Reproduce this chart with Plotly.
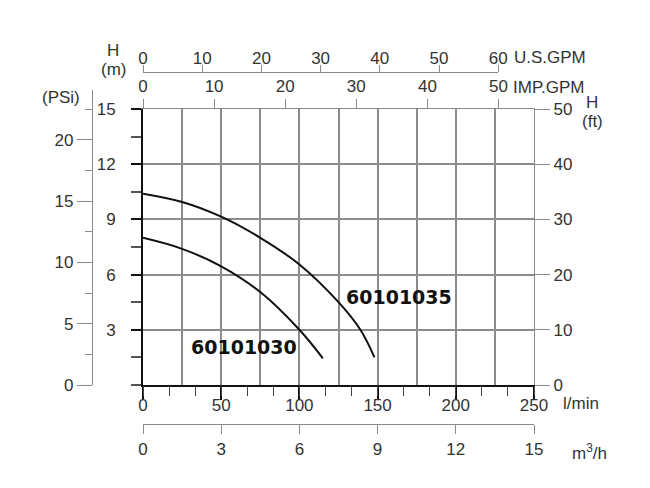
import plotly.graph_objects as go

# ---- data ----
flow_35 = [0, 25, 50, 75, 100, 125, 139, 148]          # l/min
head_35 = [10.4, 9.95, 9.15, 8.0, 6.55, 4.5, 3.0, 1.5]  # m
flow_30 = [0, 25, 50, 75, 100, 115]
head_30 = [8.0, 7.4, 6.45, 5.05, 3.0, 1.45]
model_names = ["60101035", "60101030"]

lmin_ticks = [0, 50, 100, 150, 200, 250]
m3h_ticks = [0, 3, 6, 9, 12, 15]
usgpm_ticks = [0, 10, 20, 30, 40, 50, 60]
impgpm_ticks = [0, 10, 20, 30, 40, 50]
hm_ticks = [3, 6, 9, 12, 15]
psi_ticks = [0, 5, 10, 15, 20]
ft_ticks = [0, 10, 20, 30, 40, 50]

W, H = 650, 488
def px(x): return x / W
def py(y): return 1 - y / H

X0, X1 = px(143), px(534)
YB, YT = py(385), py(109)

TF = dict(family="Liberation Sans, Arial, sans-serif", size=17, color="#333")
GRID = "#8c8c8c"
GREY = "#8a8a8a"

fig = go.Figure()
fig.add_trace(go.Scatter(x=flow_35, y=head_35, mode="lines", line=dict(color="#111", width=2, shape="spline"),
                         showlegend=False, hoverinfo="skip"))
fig.add_trace(go.Scatter(x=flow_30, y=head_30, mode="lines", line=dict(color="#111", width=2, shape="spline"),
                         showlegend=False, hoverinfo="skip"))

def dummy(xa, ya):
    fig.add_trace(go.Scatter(x=[None], y=[None], xaxis=xa, yaxis=ya, mode="markers",
                             showlegend=False, hoverinfo="skip"))

dummy("x2", "y")
dummy("x3", "y")
dummy("x4", "y2")
dummy("x5", "y")
dummy("x", "y3")

common = dict(automargin=False, zeroline=False, fixedrange=True, tickfont=TF)

fig.update_layout(
    template="none",
    width=W, height=H, autosize=False,
    margin=dict(l=0, r=0, t=0, b=0, pad=0),
    paper_bgcolor="white", plot_bgcolor="rgba(0,0,0,0)",
    showlegend=False,
    xaxis=dict(domain=[X0, X1], range=[0, 250], anchor="y", side="bottom",
               tickmode="array", tickvals=lmin_ticks, ticktext=[str(v) for v in lmin_ticks],
               ticks="outside", ticklen=13, tickwidth=1.5, tickcolor="#111",
               showline=True, linecolor="#111", linewidth=2,
               showgrid=True, gridcolor=GRID, gridwidth=1.5,
               minor=dict(tickvals=[25, 75, 125, 175, 225], showgrid=True, gridcolor=GRID, gridwidth=1.5, ticks=""),
               ticklabelstandoff=-9, **common),
    xaxis2=dict(overlaying="x", anchor="y", side="bottom", range=[0, 15],
                tickmode="array", tickvals=list(range(0, 16)), ticks="outside", ticklen=10,
                tickwidth=1, tickcolor="#444", showticklabels=False, showline=False,
                showgrid=False, **common),
    xaxis3=dict(overlaying="x", anchor="free", position=py(424), side="bottom", range=[0, 15],
                tickmode="array", tickvals=m3h_ticks, ticks="outside", ticklen=9, tickwidth=1,
                tickcolor=GREY, showline=True, linecolor=GREY, linewidth=1.2,
                showgrid=False, **common),
    xaxis4=dict(domain=[X0, px(143 + 60 * 3.78541 * 391 / 250)], anchor="free", position=py(72),
                side="top", range=[0, 60], tickmode="array", tickvals=usgpm_ticks, ticks="outside",
                ticklen=7, tickwidth=1, tickcolor=GREY, showline=True, linecolor=GREY, linewidth=1.2,
                showgrid=False, ticklabelstandoff=-6, **common),
    xaxis5=dict(overlaying="x", anchor="y", side="top", range=[0, 250 / 4.54609],
                tickmode="array", tickvals=impgpm_ticks, ticks="outside", ticklen=9, tickwidth=1,
                tickcolor=GREY, showline=True, linecolor=GREY, linewidth=1.2,
                showgrid=False, **common),
    yaxis=dict(domain=[YB, YT], range=[0, 15], anchor="x", side="left",
               tickmode="array", tickvals=hm_ticks,
               ticks="outside", ticklen=10, tickwidth=1.5, tickcolor="#111",
               showline=True, linecolor="#111", linewidth=2,
               showgrid=True, gridcolor=GRID, gridwidth=1.5,
               minor=dict(tickvals=[0, 1.5, 4.5, 7.5, 10.5, 13.5], ticks="outside", ticklen=10,
                          tickcolor="#555", showgrid=False),
               ticklabelstandoff=12, **common),
    yaxis2=dict(domain=[YB, py(90)], range=[0, 22.5 * (385 - 90) / 276], anchor="free",
                position=px(92), side="left",
                tickmode="array", tickvals=psi_ticks, ticks="outside", ticklen=15, tickwidth=1,
                tickcolor=GREY, showline=True, linecolor=GREY, linewidth=1.2,
                minor=dict(tickvals=[2.5, 7.5, 12.5, 17.5, 22.5], ticks="outside", ticklen=7,
                           tickcolor=GREY, showgrid=False),
                showgrid=False, **common),
    yaxis3=dict(overlaying="y", anchor="x", side="right", range=[0, 50],
                tickmode="array", tickvals=ft_ticks, ticks="outside", ticklen=15, tickwidth=1,
                tickcolor=GREY, showline=True, linecolor=GREY, linewidth=1.2,
                showgrid=False, **common),
)

ann = []
def label(text, x, y, xanchor="center", size=17):
    ann.append(dict(text=text, x=px(x), y=py(y), xref="paper", yref="paper", showarrow=False,
                    xanchor=xanchor, yanchor="middle",
                    font=dict(family=TF["family"], size=size, color="#333")))

label("H", 113, 50)
label("(m)", 113, 69)
label("(PSi)", 61, 98)
label("U.S.GPM", 512, 58, xanchor="left")
label("IMP.GPM", 511, 87, xanchor="left")
label("H", 592, 102)
label("(ft)", 592, 121)
label("l/min", 561, 403, xanchor="left")
label("m<sup>3</sup>/h", 589, 452)

BOLD = dict(family="DejaVu Sans, Verdana, sans-serif", size=19, color="#111")
ann.append(dict(text="<b>" + model_names[0] + "</b>", x=163.7, y=4.8, xref="x", yref="y",
                showarrow=False, font=BOLD))
ann.append(dict(text="<b>" + model_names[1] + "</b>", x=64.6, y=2.07, xref="x", yref="y",
                showarrow=False, font=BOLD))
fig.update_layout(annotations=ann)

fig.write_html("out.html")
